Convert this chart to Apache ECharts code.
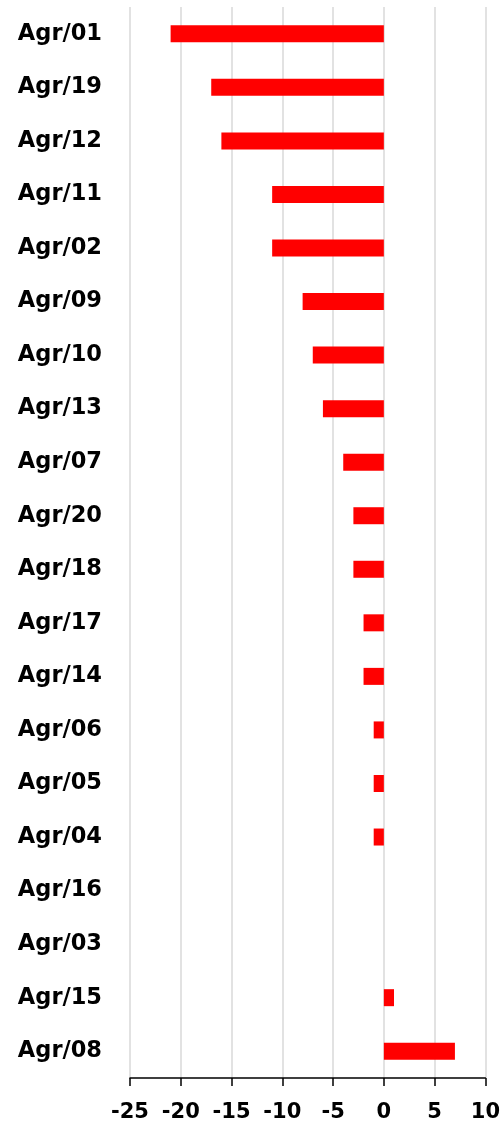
<!DOCTYPE html>
<html>
<head>
<meta charset="utf-8">
<script src="https://cdn.jsdelivr.net/npm/echarts@6/dist/echarts.min.js"></script>
<style>
    html, body { margin: 0; padding: 0; background: #fff; }
    #main { width: 503px; height: 1131px; }
</style>
</head>
<body>
<div id="main"></div>
<script>
    // categories top to bottom
    var categories = ['Agr/01', 'Agr/19', 'Agr/12', 'Agr/11', 'Agr/02', 'Agr/09', 'Agr/10',
        'Agr/13', 'Agr/07', 'Agr/20', 'Agr/18', 'Agr/17', 'Agr/14', 'Agr/06', 'Agr/05',
        'Agr/04', 'Agr/16', 'Agr/03', 'Agr/15', 'Agr/08'];
    var values = [-21, -17, -16, -11, -11, -8, -7, -6, -4, -3, -3, -2, -2, -1, -1, -1, 0, 0, 1, 7];
    var xMin = -25, xMax = 10, xStep = 5;

    var myChart = echarts.init(document.getElementById('main'));

    myChart.setOption({
        animation: false,
        grid: {left: 130, right: 17, top: 7, bottom: 53},
        xAxis: {
            type: 'value',
            min: xMin,
            max: xMax,
            interval: xStep,
            axisLine: {show: true, onZero: false, lineStyle: {color: '#000', width: 1.5}},
            axisTick: {show: true, length: 8, lineStyle: {color: '#000', width: 1.5}},
            axisLabel: {
                color: '#000', fontSize: 21, fontWeight: 'bold',
                fontFamily: 'DejaVu Sans', margin: 24
            },
            splitLine: {show: true, lineStyle: {color: '#d9d9d9', width: 1.5}}
        },
        yAxis: {
            type: 'category',
            data: categories,
            inverse: true,
            axisLine: {show: false},
            axisTick: {show: false},
            axisLabel: {
                color: '#000', fontSize: 22.5, fontWeight: 'bold',
                fontFamily: 'DejaVu Sans', margin: 28
            }
        },
        series: [
            {
                type: 'bar',
                data: values,
                barWidth: 17,
                itemStyle: {color: '#ff0000'}
            }
        ]
    });
</script>
</body>
</html>
